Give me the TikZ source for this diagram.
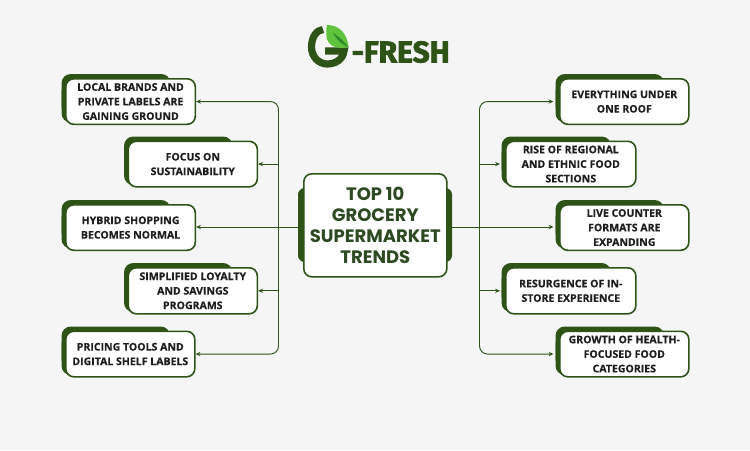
\documentclass[tikz,border=0pt]{standalone}
\usepackage{fontspec}
\setmainfont{Open Sans}[BoldFeatures={FakeBold=0.4}]
\newfontfamily\hdfont{Poppins}
\newfontfamily\logofont{Fira Sans}[FakeBold=2.5]
\usetikzlibrary{arrows.meta}
\definecolor{bgc}{HTML}{F5F5F5}
\definecolor{dgreen}{HTML}{2E5317}
\definecolor{lgreen}{HTML}{5FC33B}
\definecolor{mgreen}{HTML}{2C8A2A}
\definecolor{hdtext}{HTML}{2D4A22}
\definecolor{bodytext}{HTML}{1C1F1C}
\tikzset{
 px/.style={x=0.75pt,y=-0.75pt},
 backbox/.style={fill=dgreen,draw=none,rounded corners=7pt},
 trendbox/.style={draw=dgreen,line width=1.2pt,fill=white,rounded corners=6pt,inner sep=0pt,
   align=center,text=bodytext,font=\fontsize{7.9pt}{10.9pt}\selectfont\bfseries},
 headbox/.style={draw=dgreen,line width=1.2pt,fill=white,rounded corners=6pt,inner sep=0pt,
   align=center,text=hdtext,font=\hdfont\fontsize{13.5pt}{15.7pt}\selectfont\bfseries},
 link/.style={draw=dgreen,line width=0.7pt,rounded corners=6pt,-{Stealth[length=3.6pt,width=3.2pt]}},
}
% #1 name, #2 left, #3 top, #4 right, #5 bottom, #6 text
\newcommand{\tbox}[6]{%
  \fill[backbox] (#2-3.5,#3-4) rectangle (#4-24,#5-8);
  \fill[backbox] (#2-3.5,#3+4) rectangle (#2+30,#5-1);
  \node[trendbox,minimum width=#4*0.75pt-#2*0.75pt,minimum height=#5*0.75pt-#3*0.75pt,anchor=north west] (#1) at (#2,#3) {#6};
}
\begin{document}
\begin{tikzpicture}[px]
\useasboundingbox (0,0) rectangle (750,450);
\fill[bgc] (0,0) rectangle (750,450);
% logo
\draw[dgreen,line width=5.4pt] (323,29.5) .. controls (316,30) and (311.5,38) .. (311.5,47)
   .. controls (311.5,57) and (319,64) .. (327,64) .. controls (336,64) and (343,59) .. (344,51) -- (325,51);
\fill[lgreen] (327,25) .. controls (337,25) and (347,31) .. (348.5,47)
   .. controls (340,49) and (330,48) .. (327,39) .. controls (326,34) and (326,29) .. (327,25) -- cycle;
\fill[mgreen] (348.5,47) .. controls (344,42) and (340,37) .. (333,33) .. controls (337,40) and (341,44) .. (348.5,47) -- cycle;
\node[inner sep=0pt,text=dgreen,font=\logofont\fontsize{22.5pt}{22.5pt}\selectfont\bfseries,anchor=east] (logotext) at (450,52) {-FRESH};
% center backing
\fill[backbox,rounded corners=5pt] (298,188) rectangle (452,262);
% left
\tbox{l1}{65}{78}{194.5}{123.5}{LOCAL BRANDS AND\\PRIVATE LABELS ARE\\GAINING GROUND}
\tbox{l2}{127.5}{140.5}{256.5}{186}{FOCUS ON\\SUSTAINABILITY}
\tbox{l3}{65}{204}{194.5}{249.5}{HYBRID SHOPPING\\BECOMES NORMAL}
\tbox{l4}{127.5}{267}{256.5}{313}{SIMPLIFIED LOYALTY\\AND SAVINGS\\PROGRAMS}
\tbox{l5}{65}{330.5}{194}{376}{PRICING TOOLS AND\\DIGITAL SHELF LABELS}
% right
\tbox{r1}{559}{78}{688}{123.5}{EVERYTHING UNDER\\ONE ROOF}
\tbox{r2}{505}{140.5}{635}{186}{RISE OF REGIONAL\\AND ETHNIC FOOD\\SECTIONS}
\tbox{r3}{559}{204}{688}{249.5}{LIVE COUNTER\\FORMATS ARE\\EXPANDING}
\tbox{r4}{505}{267}{635}{313}{RESURGENCE OF IN-\\STORE EXPERIENCE}
\tbox{r5}{559}{330.5}{688}{376}{GROWTH OF HEALTH-\\FOCUSED FOOD\\CATEGORIES}
% center
\node[headbox,minimum width=107.25pt,minimum height=77.25pt,anchor=north west] (c) at (303,173) {TOP 10\\GROCERY\\SUPERMARKET\\TRENDS};
% trunks
\coordinate (lt) at (278.5,227);
\coordinate (rt) at (479.5,227);
\coordinate (cl) at (298,227);
\coordinate (cr) at (452,227);
\coordinate (r1t) at ([xshift=-4.2pt]r1.west);
\coordinate (r2t) at ([xshift=-3.8pt]r2.west);
\coordinate (r3t) at ([xshift=-4.2pt]r3.west);
\coordinate (r4t) at ([xshift=-3.8pt]r4.west);
\coordinate (r5t) at ([xshift=-4.2pt]r5.west);
\draw[link] (lt) -- (lt |- l1.east) -- (l1.east);
\draw[link] (lt) -- (lt |- l5.east) -- (l5.east);
\draw[link] (lt |- l2.east) -- (l2.east);
\draw[link] (cl) -- (cl -| l3.east);
\draw[link] (lt |- l4.east) -- (l4.east);
\draw[link] (rt) -- (rt |- r1t) -- (r1t);
\draw[link] (rt) -- (rt |- r5t) -- (r5t);
\draw[link] (rt |- r2t) -- (r2t);
\draw[link] (cr) -- (cr -| r3t);
\draw[link] (rt |- r4t) -- (r4t);
\end{tikzpicture}
\end{document}
